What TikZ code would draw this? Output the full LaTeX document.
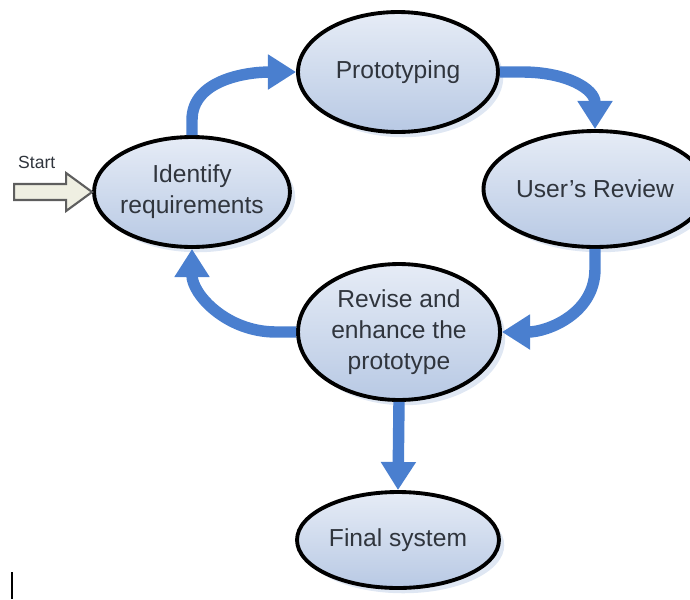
\documentclass[tikz,border=0pt]{standalone}
\usepackage{fontspec}
\setmainfont{Liberation Sans}
\usetikzlibrary{arrows.meta,shapes.geometric,shadows}

\definecolor{flowblue}{HTML}{4A7FCF}
\definecolor{ovaltop}{HTML}{E6ECF6}
\definecolor{ovalbot}{HTML}{B8C9E4}
\definecolor{inkgrey}{HTML}{30353D}
\definecolor{startfill}{HTML}{EFEFE2}
\definecolor{startline}{HTML}{5E5E5E}

\begin{document}
\begin{tikzpicture}[
  x=0.02cm, y=-0.02cm,
  every node/.style={font=\fontsize{14}{17.6}\selectfont, text=inkgrey},
  oval/.style={ellipse, draw=black, line width=2.2pt, top color=ovaltop, bottom color=ovalbot,
    align=center, inner sep=0pt,
    drop shadow={shadow xshift=3pt, shadow yshift=-3pt, fill=ovalbot, opacity=0.45}},
  flow/.style={draw=flowblue, line width=6.5pt, -{Triangle[width=19pt,length=16pt]}},
  startarrow/.style={draw=startline, line width=1.2pt, fill=startfill, line join=miter}
]
\useasboundingbox (0,0) rectangle (690,599);

% --- the five stages ---
\node[oval, minimum width=3.92cm, minimum height=2.2cm, inner xsep=-2.5pt] (ident) at (192,192) {Identify\\requirements};
\node[oval, minimum width=4cm, minimum height=2.4cm]    (proto)  at (398,72)  {Prototyping};
\node[oval, minimum width=3.72cm, minimum height=2.32cm] (review) at (595,189) {User's Review};
\node[oval, minimum width=4.04cm, minimum height=2.72cm] (revise) at (399,332) {Revise and\\enhance the\\prototype};
\node[oval, minimum width=4.04cm, minimum height=1.92cm] (final)  at (398,540) {Final system};

% --- the cycle ---
\draw[flow] (ident.north) -- ++(0,-15) .. controls +(0,-40) and +(-50,0) .. (proto.west);
\draw[flow] (proto.east) -- ++(22,0) .. controls +(45,0) and +(0,-40) .. (review.north);
\draw[flow] (review.south) -- ++(0,20) .. controls +(0,45) and +(45,0) .. (revise.east);
\draw[flow] (revise.west) -- ++(-20,0) .. controls +(-50,0) and +(0,45) .. (ident.south);
\draw[flow] (revise.south) -- (final.north);

% --- start ---
\draw[startarrow] (ident.west) -- ++(-26,-19) -- ++(0,11) -- ++(-52,0) -- ++(0,16)
  -- ++(52,0) -- ++(0,11) -- cycle;
\node[font=\fontsize{10}{12}\selectfont, anchor=west] (start) at (12,162) {Start};

% --- stray mark ---
\draw[line width=1.2pt] (12,572) -- (12,599);
\end{tikzpicture}
\end{document}
